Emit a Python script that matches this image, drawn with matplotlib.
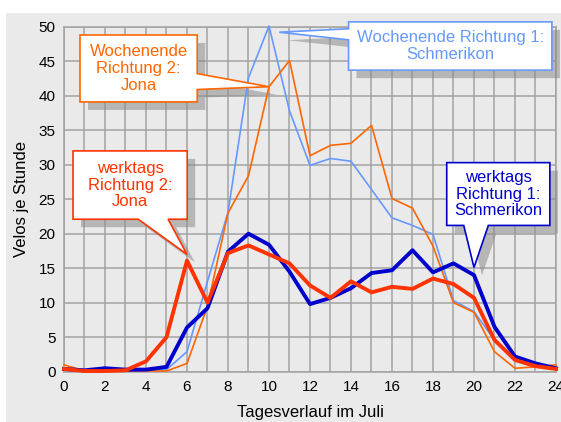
import matplotlib
matplotlib.use("Agg")
import matplotlib.pyplot as plt
from matplotlib.patches import Polygon, Rectangle
from matplotlib import transforms

plt.rcParams['font.family'] = ['Liberation Sans', 'DejaVu Sans']

# hourly counts, 0..24 h
hours = list(range(25))
werktags_r1 = [0.4, 0.2, 0.5, 0.3, 0.3, 0.7, 6.4, 9.2, 17.4, 20.0, 18.4, 14.5, 9.8,
               10.7, 12.1, 14.3, 14.7, 17.6, 14.4, 15.7, 14.0, 6.5, 2.2, 1.2, 0.5]
werktags_r2 = [0.4, 0.1, 0.1, 0.2, 1.5, 5.0, 16.1, 10.0, 17.2, 18.3, 17.0, 15.7, 12.5,
               10.7, 13.1, 11.5, 12.3, 12.0, 13.5, 12.7, 10.7, 4.6, 1.7, 0.8, 0.4]
wochenende_r1 = [0.3, 0.2, 0.2, 0.2, 0.1, 0.3, 2.9, 13.1, 23.1, 42.6, 50.1, 37.8, 29.9,
                 30.9, 30.5, 26.4, 22.3, 21.2, 19.9, 10.3, 8.7, 4.6, 1.9, 1.0, 0.5]
wochenende_r2 = [1.0, 0.1, 0.1, 0.1, 0.1, 0.1, 1.2, 9.5, 23.0, 28.4, 41.3, 45.1, 31.3,
                 32.8, 33.1, 35.7, 25.1, 23.7, 18.2, 10.0, 8.6, 2.9, 0.5, 0.7, 1.0]

x_ticks = list(range(0, 25, 2))
y_ticks = list(range(0, 51, 5))

BG = '#eaeaea'
GRID = '#a3a3a3'

fig = plt.figure(figsize=(5.61, 4.22), dpi=100)
fig.patch.set_facecolor('white')
fig.patches.append(Rectangle((6 / 561, 0), 1, 1 - 13 / 422, transform=fig.transFigure,
                             facecolor=BG, edgecolor='none', zorder=-10))

ax = fig.add_axes([64 / 561, 1 - 371.7 / 422, 492 / 561, 345 / 422])
ax.set_facecolor(BG)
ax.set_xlim(0, 24)
ax.set_ylim(0, 50)
ax.set_xticks(x_ticks)
ax.set_xticks(range(25), minor=True)
ax.set_yticks(y_ticks)
ax.grid(True, which='both', color=GRID, lw=1.1)
ax.set_axisbelow(True)
ax.tick_params(which='both', length=0, labelsize=11, pad=6)
for s in ax.spines.values():
    s.set_color(GRID)
    s.set_linewidth(1.1)
ax.set_xlabel('Tagesverlauf im Juli', fontsize=12, labelpad=8)
ax.set_ylabel('Velos je Stunde', fontsize=12, labelpad=7)

ax.plot(hours, wochenende_r1, color='#6699ff', lw=1.2, zorder=5, clip_on=False)
ax.plot(hours, wochenende_r2, color='#ff6600', lw=1.2, zorder=5, clip_on=False)
ax.plot(hours, werktags_r1, color='#0000cc', lw=2.8, zorder=6, clip_on=False)
ax.plot(hours, werktags_r2, color='#ff3300', lw=2.8, zorder=6, clip_on=False)


def callout(box, side, base, tip, text, color, fontsize=12):
    x0, y0, x1, y1 = box  # left, bottom, right, top
    b0, b1 = base
    if side == 'right':
        verts = [(x0, y1), (x1, y1), (x1, b1), tip, (x1, b0), (x1, y0), (x0, y0)]
    elif side == 'left':
        verts = [(x0, y1), (x1, y1), (x1, y0), (x0, y0), (x0, b0), tip, (x0, b1)]
    else:  # bottom
        verts = [(x0, y1), (x1, y1), (x1, y0), (b1, y0), tip, (b0, y0), (x0, y0)]
    shadow_tr = transforms.offset_copy(ax.transData, fig=fig, x=8, y=-8, units='dots')
    ax.add_patch(Polygon(verts, closed=True, transform=shadow_tr, facecolor='#8c8c8c',
                         alpha=0.55, edgecolor='none', zorder=3, clip_on=False))
    ax.add_patch(Polygon(verts, closed=True, facecolor='white', edgecolor=color,
                         lw=1.2, zorder=8, clip_on=False))
    ax.text((x0 + x1) / 2, (y0 + y1) / 2, text, ha='center', va='center',
            color=color, fontsize=fontsize, zorder=9, linespacing=1.15)


callout((0.78, 39.1, 6.5, 48.8), 'right', (40.9, 43.2), (10.0, 41.3),
        'Wochenende\nRichtung 2:\nJona', '#ff6600')
callout((13.88, 43.7, 23.8, 50.7), 'left', (48.1, 49.7), (10.5, 49.2),
        'Wochenende Richtung 1:\nSchmerikon', '#6699ff')
callout((0.44, 22.1, 6.01, 32.0), 'bottom', (3.62, 5.08), (6.0, 17.0),
        'werktags\nRichtung 2:\nJona', '#ff3300')
callout((18.67, 21.2, 23.7, 30.3), 'bottom', (19.5, 20.7), (20.0, 15.1),
        'werktags\nRichtung 1:\nSchmerikon', '#0000cc')

fig.savefig('out.png', dpi=100, facecolor=fig.get_facecolor())
